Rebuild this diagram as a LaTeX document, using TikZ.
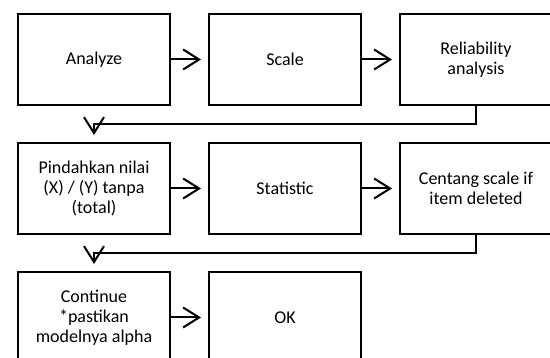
\documentclass[tikz,border=0pt]{standalone}
\usepackage{fontspec}
\setmainfont{Carlito}
\usetikzlibrary{calc,positioning,arrows.meta}
\tikzset{
	flowbox/.style={draw, line width=2pt, minimum width=152pt, minimum height=91pt, align=center, font=\fontsize{18}{20}\selectfont},
	flowarrow/.style={line width=2pt, -{Straight Barb[length=16pt,width=20pt]}, shorten >=7pt}
}
\begin{document}
\begin{tikzpicture}[x=1pt, y=1pt, node distance=36pt and 37pt]
		%%%%% START %%%%%
		
		\useasboundingbox (0,0) rectangle (550,-358);
		
		\node[flowbox] (analyze) at (94,-59.5) {Analyze};
		\node[flowbox, right=of analyze] (scale) {Scale};
		\node[flowbox, right=of scale] (reliab) {Reliability\\analysis};
		
		\node[flowbox, below=of analyze] (pindah) {Pindahkan nilai\\(X) / (Y) tanpa\\(total)};
		\node[flowbox, right=of pindah] (stat) {Statistic};
		\node[flowbox, right=of stat] (centang) {Centang scale if\\item deleted};
		
		\node[flowbox, below=of pindah] (cont) {Continue\\*pastikan\\modelnya alpha};
		\node[flowbox, right=of cont] (ok) {OK};
		
		\draw[flowarrow] (analyze) -- (scale);
		\draw[flowarrow] (scale) -- (reliab);
		\draw[flowarrow] (reliab.south) |- ($(analyze.south)!0.5!(pindah.north)$) -- (pindah.north);
		
		\draw[flowarrow] (pindah) -- (stat);
		\draw[flowarrow] (stat) -- (centang);
		\draw[flowarrow] (centang.south) |- ($(pindah.south)!0.5!(cont.north)$) -- (cont.north);
		
		\draw[flowarrow] (cont) -- (ok);
		
		%%%%% END %%%%%
	\end{tikzpicture}
\end{document}
